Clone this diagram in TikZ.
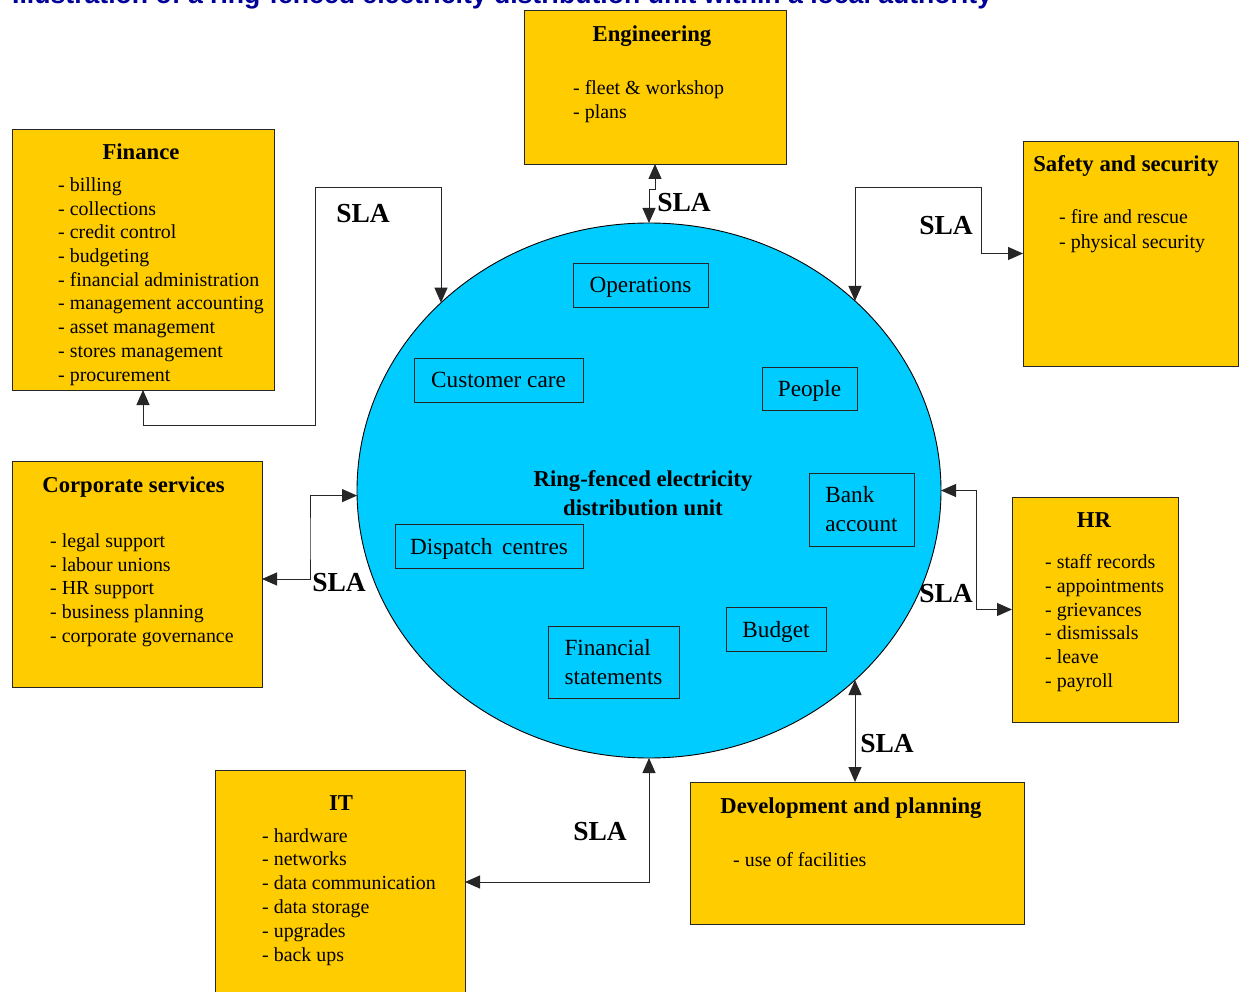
\documentclass[tikz,border=0pt]{standalone}
\usepackage{fontspec}
\setmainfont{Liberation Serif}
\newfontfamily\titlefont{Liberation Sans}
\usetikzlibrary{shapes.geometric,arrows.meta}
\definecolor{boxyellow}{HTML}{FFCC00}
\definecolor{unitblue}{HTML}{00CCFF}
\definecolor{titleblue}{HTML}{000099}
\begin{document}
\begin{tikzpicture}[x=1pt,y=-1pt,
  dept/.style={draw=black!85, line width=0.9pt, fill=boxyellow, inner sep=0, outer sep=0},
  inbox/.style={draw=black!85, line width=0.9pt, inner sep=0, outer sep=0, align=left,
    font=\fontsize{23.2}{29}\selectfont},
  onel/.style={text depth=0pt},
  dtitle/.style={anchor=base, inner sep=0, font=\bfseries\fontsize{22.7}{27}\selectfont},
  ditem/.style={anchor=base west, inner sep=0, font=\fontsize{19.9}{23.7}\selectfont},
  slalabel/.style={inner sep=0, font=\bfseries\fontsize{27.5}{30}\selectfont},
  sla/.style={draw=black!85, line width=1pt,
    {Triangle[length=15pt,width=13pt]}-{Triangle[length=15pt,width=13pt]}}]
\useasboundingbox (0,0) rectangle (1240,992);
\fill[white] (0,0) rectangle (1240,992);

% title (cut off at top)
\node[anchor=base west, inner sep=0, text=titleblue,
  font=\titlefont\bfseries\fontsize{26.6}{30}\selectfont] (title) at (12,4)
  {Illustration of a ring-fenced electricity distribution unit within a local authority};

% central unit
\node[ellipse, draw=black, line width=0.9pt, fill=unitblue, minimum width=584pt,
  minimum height=535pt, inner sep=0, outer sep=0] (unit) at (649,490.5) {};
\node[align=center, inner sep=0, font=\bfseries\fontsize{22.7}{29}\selectfont] (ctr)
  at (643,493) {Ring-fenced electricity\\distribution unit};

% inner boxes
\node[inbox, onel, minimum width=135pt, minimum height=44pt] (ops) at (640.5,285) {Operations};
\node[inbox, onel, minimum width=169pt, minimum height=44pt] (cust) at (498.5,380) {Customer care};
\node[inbox, onel, minimum width=95pt, minimum height=43pt] (people) at (809.5,388.5) {People};
\node[inbox, minimum width=105pt, minimum height=73pt] (bank) at (861.5,509.5) {Bank\\account};
\node[inbox, onel, minimum width=188pt, minimum height=44pt] (disp) at (489,546) {Dispatch\, centres};
\node[inbox, onel, minimum width=100pt, minimum height=44pt] (budget) at (776,629) {Budget};
\node[inbox, minimum width=131pt, minimum height=72pt] (finst) at (613.5,662) {Financial\\statements};

% department boxes
\node[dept, minimum width=262pt, minimum height=154pt] (eng) at (655,87) {};
\node[dept, minimum width=262pt, minimum height=261pt] (fin) at (143,259.5) {};
\node[dept, minimum width=215pt, minimum height=225pt] (saf) at (1130.5,253.5) {};
\node[dept, minimum width=250pt, minimum height=226pt] (corp) at (137,574) {};
\node[dept, minimum width=166pt, minimum height=225pt] (hr) at (1095,609.5) {};
\node[dept, minimum width=250pt, minimum height=224pt] (it) at (340,882) {};
\node[dept, minimum width=334pt, minimum height=142pt] (dev) at (857,853) {};

% Engineering
\node[dtitle] (engT) at (652,42) {Engineering};
\foreach \t [count=\i] in {fleet \& workshop, plans}
  \node[ditem] (eng\i) at (573,{95+(\i-1)*23.5}) {- \t};

% Finance
\node[dtitle] (finT) at (141,160) {Finance};
\foreach \t [count=\i] in {billing, collections, credit control, budgeting,
  financial administration, management accounting, asset management,
  stores management, procurement}
  \node[ditem] (fin\i) at (58,{191.5+(\i-1)*23.7}) {- \t};

% Safety and security
\node[dtitle] (safT) at (1126,172) {Safety and security};
\foreach \t [count=\i] in {fire and rescue, physical security}
  \node[ditem] (saf\i) at (1059,{224+(\i-1)*24.5}) {- \t};

% Corporate services
\node[dtitle] (corpT) at (133.5,492.5) {Corporate services};
\foreach \t [count=\i] in {legal support, labour unions, HR support,
  business planning, corporate governance}
  \node[ditem] (corp\i) at (50,{547.5+(\i-1)*23.7}) {- \t};

% HR
\node[dtitle] (hrT) at (1094,527.5) {HR};
\foreach \t [count=\i] in {staff records, appointments, grievances,
  dismissals, leave, payroll}
  \node[ditem] (hr\i) at (1045,{568.5+(\i-1)*23.8}) {- \t};

% IT
\node[dtitle] (itT) at (341,810.5) {IT};
\foreach \t [count=\i] in {hardware, networks, data communication,
  data storage, upgrades, back ups}
  \node[ditem] (it\i) at (262,{842+(\i-1)*23.8}) {- \t};

% Development and planning
\node[dtitle] (devT) at (851,813.5) {Development and planning};
\node[ditem] (dev1) at (733,866) {- use of facilities};

% points on the unit's border
\coordinate (uf) at (441,302.7);
\coordinate (us) at (855,301);
\coordinate (ud) at (855,680);

% connectors
\coordinate (f1) at (315,425);
\coordinate (f2) at (441,188);
\draw[sla] (fin.south) |- (f1) |- (f2) -- (uf);

\draw[sla] (eng.south) -- ++(0,26) -| (unit.north);

\coordinate (s1) at (981,188);
\draw[sla] (us) |- (s1) |- (saf.west);

\coordinate (c1) at (310,540);
\draw[sla] ([yshift=-5pt]corp.east) -| (c1) |- (unit.181);

\coordinate (h1) at (976,550);
\draw[sla] (unit.east) -| (h1) |- (hr.west);

\draw[sla] (ud) -- (ud |- dev.north);

\draw[sla] (it.east) -| (unit.south);

% SLA labels
\node[slalabel] (sla1) at (363,214) {SLA};
\node[slalabel] (sla2) at (684,203) {SLA};
\node[slalabel] (sla3) at (946,226) {SLA};
\node[slalabel] (sla4) at (339,583) {SLA};
\node[slalabel] (sla5) at (946,594) {SLA};
\node[slalabel] (sla6) at (887,744) {SLA};
\node[slalabel] (sla7) at (600,832) {SLA};
\end{tikzpicture}
\end{document}
